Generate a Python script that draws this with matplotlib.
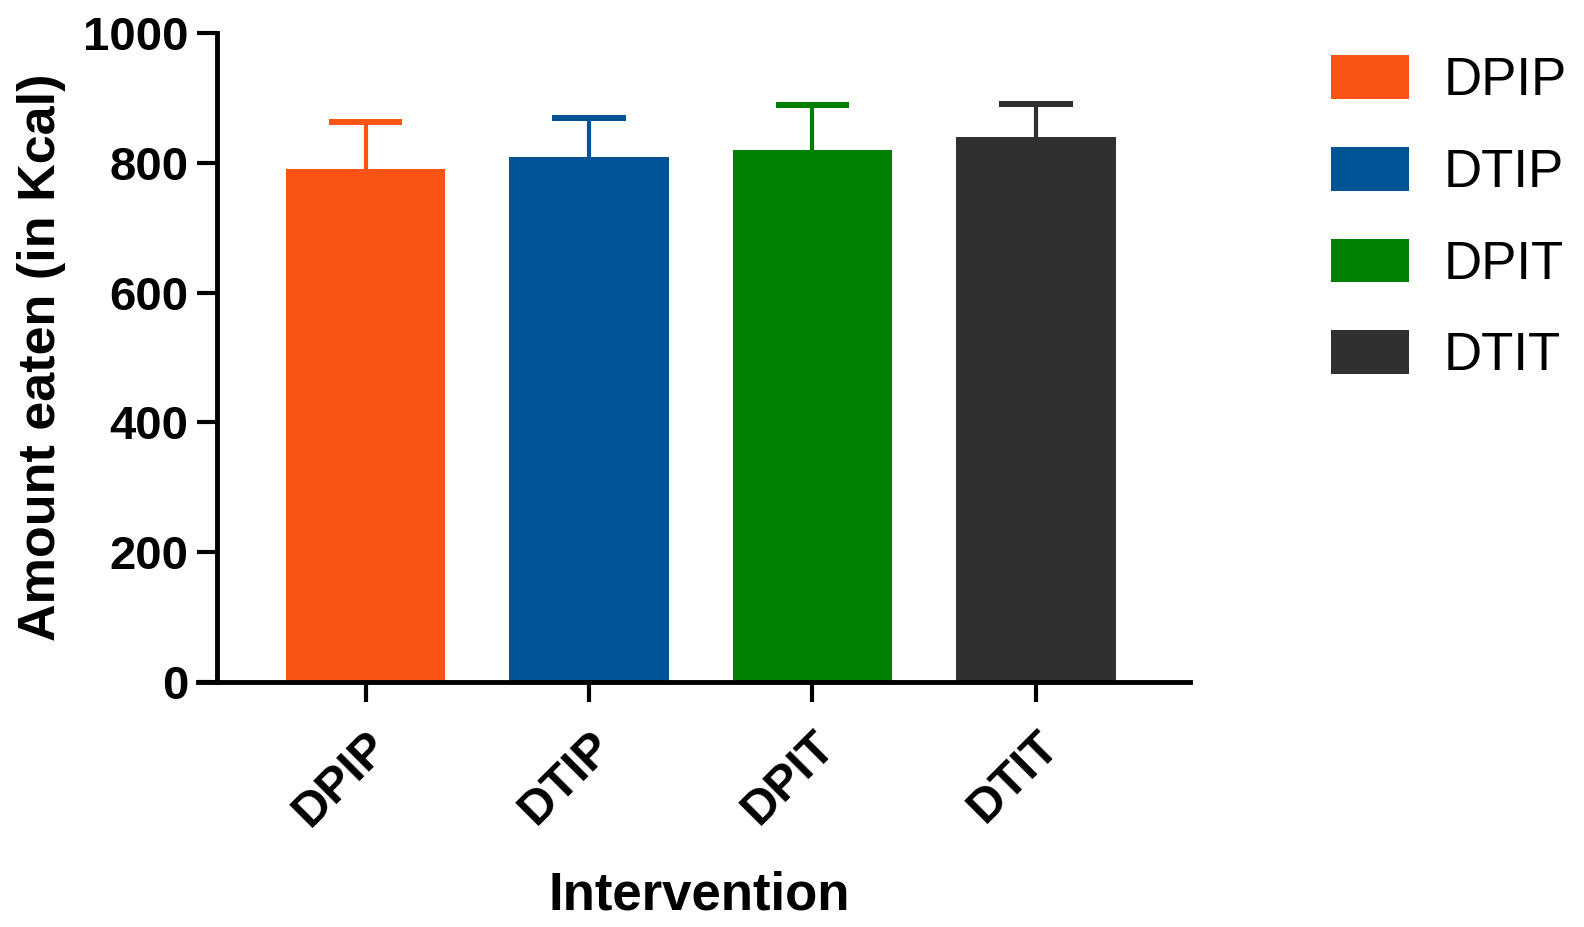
import matplotlib
matplotlib.use('Agg')
import matplotlib.pyplot as plt
import numpy as np

# data
groups = ['DPIP', 'DTIP', 'DPIT', 'DTIT']
means = [790, 809, 820, 839]   # kcal
errs = [73, 60, 69, 51]        # upper error bar only
colors = ['#FA5316', '#005496', '#008000', '#303030']

plt.rcParams['font.family'] = ['Liberation Sans', 'DejaVu Sans']

fig = plt.figure(figsize=(15.84, 9.27), dpi=100)
ax = fig.add_axes([198/1584, 245/927, (1190-198)/1584, (682-33)/927])

x = np.arange(len(groups))
bars = ax.bar(x, means, width=0.715, color=colors, zorder=2)
# upper-only error bars (stem + cap), like graphpad
tops = np.array(means) + np.array(errs)
ax.vlines(x, means, tops, colors=colors, linewidth=3, zorder=3)
ax.hlines(tops, x - 0.165, x + 0.165, colors=colors, linewidth=4.3, zorder=3)

ax.set_xlim(-0.75, 3.69)
ax.set_ylim(0, 1000)
ax.set_yticks([0, 200, 400, 600, 800, 1000])
ax.set_xticks(x)
ax.set_xticklabels(groups, rotation=45, ha='right', va='top', rotation_mode='anchor')

#axes style
for s in ['top', 'right']:
    ax.spines[s].set_visible(False)
ax.spines['left'].set_position(('data', -0.665))
ax.spines['left'].set_linewidth(3.5)
ax.spines['bottom'].set_linewidth(3.5)
ax.tick_params(axis='both', direction='out', length=14.4, width=3, labelsize=34, pad=6)
ax.tick_params(axis='x', pad=15, labelsize=35)
for lab in ax.get_xticklabels() + ax.get_yticklabels():
    lab.set_fontweight('bold')

ax.set_ylabel('Amount eaten (in Kcal)', fontsize=37.5, fontweight='bold', labelpad=12)
ax.set_xlabel('Intervention', fontsize=38, fontweight='bold', labelpad=26, x=0.505)

ax.legend(bars.patches, groups, loc='upper left', bbox_to_anchor=(1331/1584, 1 - 55/927),
          bbox_transform=fig.transFigure, frameon=False, fontsize=38,
          handlelength=1.48, handleheight=0.9, handletextpad=0.65,
          labelspacing=0.77, borderpad=0, borderaxespad=0)

fig.savefig('out.png', dpi=100)
